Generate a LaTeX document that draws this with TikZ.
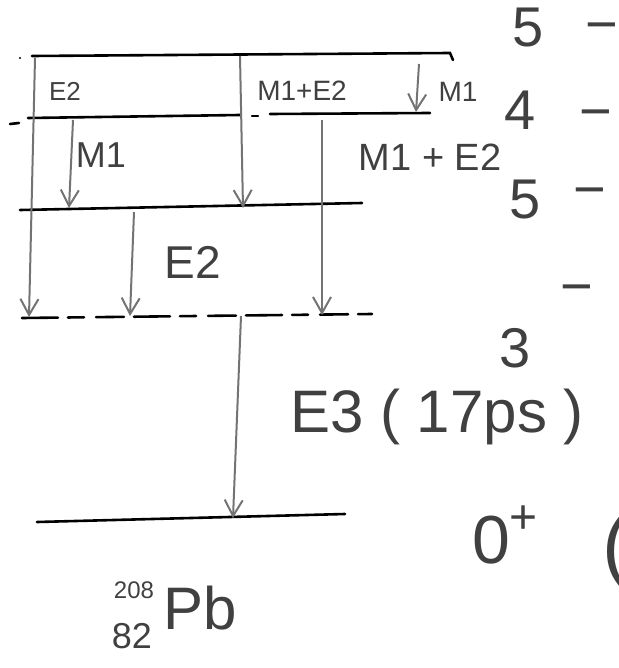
\documentclass[tikz,border=0pt]{standalone}
\usepackage{fontspec}
\setmainfont{Liberation Sans}
\usetikzlibrary{arrows.meta}
\begin{document}
\begin{tikzpicture}[x=0.5pt,y=-0.5pt,
  level/.style={line width=1.3pt, black, line cap=round},
  trans/.style={line width=1.0pt, black!55, -{Straight Barb[length=8pt,width=9pt,line width=1pt]}},
  lab/.style={text=black!75, inner sep=0pt},
  spin/.style={text=black!75, inner sep=0pt, font=\fontsize{28}{30}\selectfont},
]
\useasboundingbox (0,0) rectangle (619,668);
% levels
\coordinate (A0) at (32,56); \coordinate (A1) at (450,53);
\draw[level] (A0) -- (A1) -- ++(3,7);
\fill (20,58) circle (1.2);
\draw[level] (10,124) -- (19,123);
\draw[level] (28,118) -- (240,115);
\draw[level] (252,116) -- (258,116);
\draw[level] (270,114) -- (430,113);
\draw[level] (20,210) -- (362,203);
\draw[level, dash pattern=on 18pt off 5pt on 8pt off 6pt on 14pt off 5pt] (22,318) -- (372,314);
\draw[level] (37,522) -- (345,514);
% transition end points
\coordinate (t1s) at (35,58);  \coordinate (t1e) at (29,317);
\coordinate (t2s) at (240,56); \coordinate (t2e) at (243,208);
\coordinate (t3s) at (419,64); \coordinate (t3e) at (416,112);
\coordinate (t4s) at (73,120); \coordinate (t4e) at (69,208);
\coordinate (t5s) at (322,120);\coordinate (t5e) at (322,315);
\coordinate (t6s) at (134,212);\coordinate (t6e) at (130,316);
\coordinate (t7s) at (241,316);\coordinate (t7e) at (233,518);
\draw[trans] (t1s) -- (t1e);
\draw[trans] (t2s) -- (t2e);
\draw[trans] (t3s) -- (t3e);
\draw[trans] (t4s) -- (t4e);
\draw[trans] (t5s) -- (t5e);
\draw[trans] (t6s) -- (t6e);
\draw[trans] (t7s) -- (t7e);
% transition labels
\node[lab, font=\fontsize{13}{15}\selectfont] (l1) at (65,91) {E2};
\node[lab, font=\fontsize{14}{16}\selectfont] (l2) at (302,91) {M1+E2};
\node[lab, font=\fontsize{14}{16}\selectfont] (l3) at (458,92) {M1};
\node[lab, font=\fontsize{18}{20}\selectfont] (l4) at (101,155) {M1};
\node[lab, font=\fontsize{19}{21}\selectfont] (l5) at (430,157) {M1 + E2};
\node[lab, font=\fontsize{23}{25}\selectfont] (l6) at (193,262) {E2};
\node[lab, font=\fontsize{30}{32}\selectfont] (l7) at (437,417) {E3 ( 17ps )};
% spin labels
\node[spin] (s1) at (528,28) {5};
\node[spin] (m1) at (602,33) {−};
\node[spin] (s2) at (520,110) {4};
\node[spin] (m2) at (596,120) {−};
\node[spin] (s3) at (525,200) {5};
\node[spin] (m3) at (590,198) {−};
\node[spin] (s4) at (515,348) {3};
\node[spin] (m4) at (577,295) {−};
\node[spin, font=\fontsize{34}{36}\selectfont] (s5) at (505,535) {0\raisebox{0.45em}{\fontsize{24}{26}\selectfont+}};
\node[spin, font=\fontsize{40}{42}\selectfont] (p5) at (616,552) {(};
% nucleus
\node[lab, font=\fontsize{12}{14}\selectfont] (pbA) at (134,590) {208};
\node[lab, font=\fontsize{18}{20}\selectfont] (pbZ) at (132,636) {82};
\node[lab, font=\fontsize{30}{32}\selectfont] (pb) at (200,608) {Pb};
\end{tikzpicture}
\end{document}
